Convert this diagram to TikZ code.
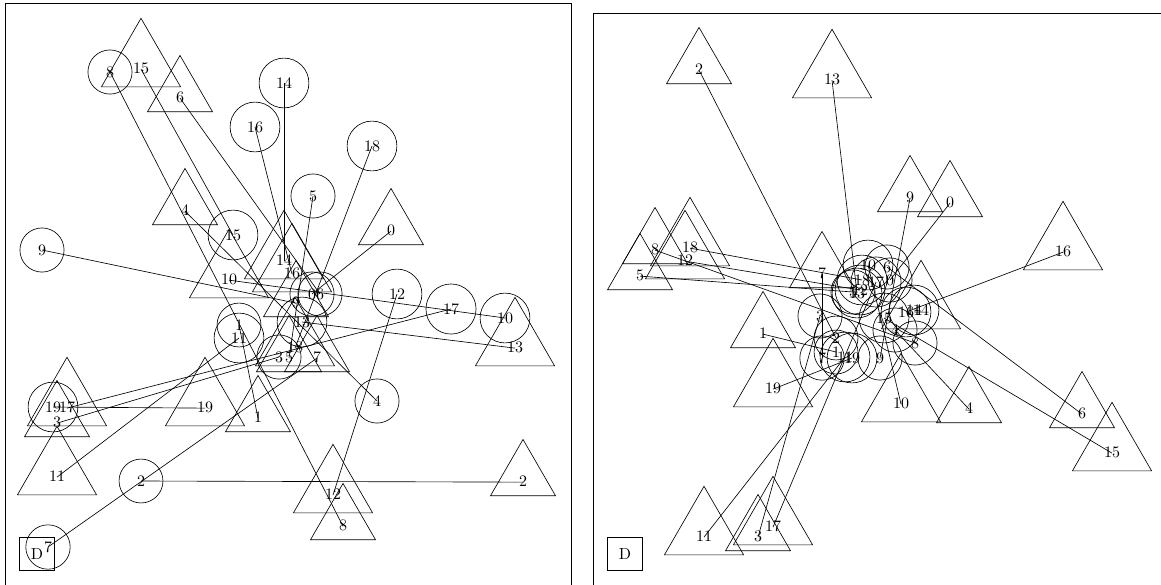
\documentclass[tikz,border=0pt]{standalone}
\usetikzlibrary{shapes.geometric}
\newcommand{\trilabel}[1]{\raisebox{-2.5pt}[6.4pt][0pt]{#1}}

\begin{document}
\begin{tikzpicture}[x=0.625pt, y=-0.625pt,
    dot/.style={draw, circle, inner sep=6.8pt},
    tri/.style={draw, regular polygon, regular polygon sides=3, inner sep=5.1pt},
    dbox/.style={draw, rectangle, inner sep=7pt}]
    \useasboundingbox (0,0) rectangle (1161,584);
    \clip (0,0) rectangle (1161,584);
    \draw (5,3) rectangle (571,600);
    \draw (593,13) rectangle (1175,600);

    % left panel: circles and triangles
    \foreach \n/\x/\y in {0/312/294, 1/239/325, 2/141/481, 3/279/357, 4/377/401,
        5/313/196, 6/320/294, 7/48/547, 8/110/72, 9/42/250, 10/505/318,
        11/239/338, 12/397/294, 13/302/322, 14/284/83, 15/233/235,
        16/255/127, 17/451/309, 18/372/146, 19/53/407}
        \node[dot] (lc\n) at (\x,\y) {\n};
    \foreach \n/\x/\y in {0/391/226, 1/258/413, 2/523/477, 3/57/418, 4/185/206,
        5/289/353, 6/180/93, 7/317/353, 8/343/521, 9/296/298, 10/229/275,
        11/57/472, 12/333/490, 13/515/343, 14/284/256, 15/141/64,
        16/292/269, 17/67/403, 18/295/343, 19/205/403}
        \node[tri] (lt\n) at (\x,\y) {\trilabel{\n}};
    \node[dbox] (ld) at (37,554) {D};

    % right panel: circles and triangles
    \foreach \n/\x/\y in {0/890/280, 1/836/352, 2/836/338, 3/820/316, 4/895/330,
        5/853/292, 6/887/267, 7/822/358, 8/915/343, 9/880/358, 10/868/265,
        11/845/357, 12/860/290, 13/857/293, 14/914/310, 15/884/318,
        16/906/312, 17/876/282, 18/862/280, 19/852/358}
        \node[dot] (rc\n) at (\x,\y) {\n};
    \foreach \n/\x/\y in {0/950/198, 1/763/329, 2/699/65, 3/758/532, 4/969/404,
        5/640/271, 6/1082/409, 7/822/269, 8/655/245, 9/910/193, 10/901/399,
        11/704/532, 12/685/256, 13/832/75, 14/921/306, 15/1112/448,
        16/1063/247, 17/773/522, 18/690/243, 19/773/384}
        \node[tri] (rt\n) at (\x,\y) {\trilabel{\n}};
    \node[dbox] (rd) at (625,554) {D};

    % each circle to its triangle
    \foreach \n in {0,...,19} {
        \draw (lc\n.center) -- (lt\n.base);
        \draw (rc\n.center) -- (rt\n.base);
    }
\end{tikzpicture}
\end{document}
